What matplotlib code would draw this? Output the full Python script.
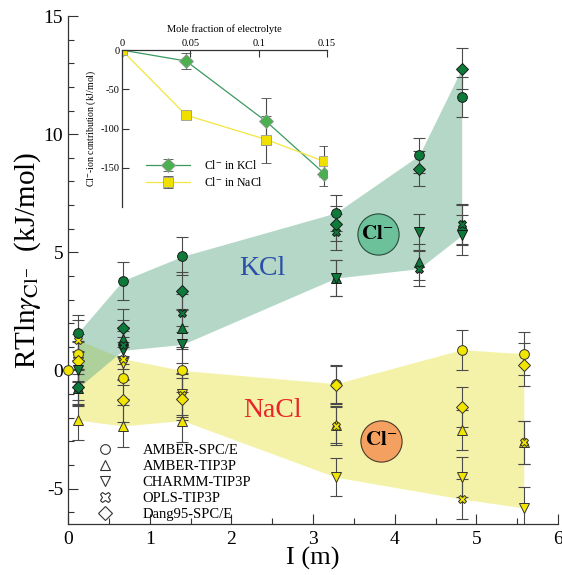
import matplotlib
matplotlib.use("Agg")
import matplotlib.pyplot as plt
import numpy as np
from matplotlib.lines import Line2D

plt.rcParams['font.family'] = ['Liberation Serif', 'DejaVu Serif']
plt.rcParams['mathtext.fontset'] = 'stix'
plt.rcParams['axes.unicode_minus'] = False

# ---------------- data ----------------
kcl_I = [0.12, 0.67, 1.40, 3.28, 4.30, 4.82]
kcl_amber_spce = [1.58, 3.80, 4.83, 6.67, 9.11, 11.58]
kcl_amber_tip3p = [-0.75, 1.35, 1.78, 3.91, 4.59, 6.15]
kcl_charmm_tip3p = [0.04, 0.85, 1.10, 3.91, 5.86, 5.72]
kcl_opls_tip3p = [-0.68, 1.06, 2.42, 5.86, 4.31, 6.21]
kcl_dang95_spce = [-0.70, 1.78, 3.36, 6.22, 8.54, 12.78]
kcl_err = [0.75, 0.80, 0.80, 0.75, 0.75, 0.85]

nacl_I = [0.12, 0.67, 1.40, 3.28, 4.82, 5.58]
nacl_amber_spce = [0.68, -0.30, 0.00, -0.56, 0.88, 0.71]
nacl_amber_tip3p = [-2.10, -2.35, -2.12, -2.29, -2.51, -3.04]
nacl_charmm_tip3p = [0.35, 0.30, -1.00, -4.52, -4.52, -5.82]
nacl_opls_tip3p = [1.30, 0.50, -1.06, -2.35, -5.44, -3.04]
nacl_dang95_spce = [0.40, -1.27, -1.20, -0.60, -1.53, 0.25]
nacl_err = [0.85, 0.90, 0.90, 0.80, 0.85, 0.90]

model_names = ['AMBER-SPC/E', 'AMBER-TIP3P', 'CHARMM-TIP3P', 'OPLS-TIP3P', 'Dang95-SPC/E']
model_markers = ['o', '^', 'v', 'X', 'D']

inset_x_kcl = [0.0, 0.047, 0.1055, 0.148]
inset_y_kcl = [0.0, -14.0, -91.0, -157.5]
inset_err_kcl = [0.0, 10.0, 30.0, 16.0]
inset_x_nacl = [0.0, 0.047, 0.1055, 0.148]
inset_y_nacl = [0.0, -83.0, -114.0, -142.0]
inset_err_nacl = [0.0, 5.0, 30.0, 20.0]

# ---------------- figure ----------------
fig = plt.figure(figsize=(5.62, 5.75), dpi=100)
ax = fig.add_axes([0.121, 0.0887, 0.872, 0.8833])

green_band = '#6ab190'
yellow_band = '#ebe752'
green_mk = '#0d7a3a'
yellow_mk = '#f2e600'
err_col = '#4a4a4a'

kcl_sets = [kcl_amber_spce, kcl_amber_tip3p, kcl_charmm_tip3p, kcl_opls_tip3p, kcl_dang95_spce]
nacl_sets = [nacl_amber_spce, nacl_amber_tip3p, nacl_charmm_tip3p, nacl_opls_tip3p, nacl_dang95_spce]

kcl_arr = np.array(kcl_sets)
nacl_arr = np.array(nacl_sets)
ax.fill_between(nacl_I, nacl_arr.min(axis=0), nacl_arr.max(axis=0),
                color=yellow_band, alpha=0.5, lw=0, zorder=1)
ax.fill_between(kcl_I, kcl_arr.min(axis=0), kcl_arr.max(axis=0),
                color=green_band, alpha=0.5, lw=0, zorder=1)

for vals, mk in zip(nacl_sets, model_markers):
    ax.errorbar(nacl_I, vals, yerr=nacl_err, fmt='none', ecolor=err_col,
                elinewidth=0.8, capsize=4, capthick=0.8, zorder=2)
    ax.plot(nacl_I, vals, ls='none', marker=mk,
            ms=6 if mk in ('D', 'X') else 7, mfc=yellow_mk, mec='#333333', mew=0.7, zorder=3)
for vals, mk in zip(kcl_sets, model_markers):
    ax.errorbar(kcl_I, vals, yerr=kcl_err, fmt='none', ecolor=err_col,
                elinewidth=0.8, capsize=4, capthick=0.8, zorder=2)
    ax.plot(kcl_I, vals, ls='none', marker=mk,
            ms=6 if mk in ('D', 'X') else 7, mfc=green_mk, mec='#1a1a1a', mew=0.7, zorder=3)

# reference point
ax.plot([0], [0], ls='none', marker='o', ms=7, mfc=yellow_mk, mec='#333333',
        mew=0.7, zorder=4, clip_on=False)

# salt labels
ax.text(2.38, 4.3, 'KCl', color='#2b4ea8', fontsize=20, ha='center', va='center')
ax.text(2.5, -1.7, 'NaCl', color='#e8262a', fontsize=20, ha='center', va='center')

# ion circles
ax.scatter([3.79], [5.76], s=880, facecolor='#6cc09a', edgecolor='#2a4a3a', lw=0.8, zorder=5)
ax.text(3.79, 5.76, r'$\mathbf{Cl}^{-}$', fontsize=15, ha='center', va='center', zorder=6)
ax.scatter([3.83], [-2.97], s=880, facecolor='#f4a060', edgecolor='#4a3a2a', lw=0.8, zorder=5)
ax.text(3.83, -2.97, r'$\mathbf{Cl}^{-}$', fontsize=15, ha='center', va='center', zorder=6)

ax.set_xlim(0, 6)
ax.set_ylim(-6.5, 15)
ax.set_xticks(np.arange(0, 7, 1))
ax.set_xticks(np.arange(0, 6.01, 0.5), minor=True)
ax.set_yticks([-5, 0, 5, 10, 15])
ax.set_yticks(np.arange(-6, 15.01, 1), minor=True)
ax.tick_params(which='both', direction='in', colors='#333333', labelcolor='black',
               labelsize=14, width=0.8)
ax.tick_params(which='major', length=7)
ax.tick_params(which='minor', length=4)
ax.tick_params(axis='x', pad=5)
for s in ['top', 'right']:
    ax.spines[s].set_visible(False)
for s in ['left', 'bottom']:
    ax.spines[s].set_color('#333333')
    ax.spines[s].set_linewidth(0.9)

ax.set_xlabel('I (m)', fontsize=19)
ax.xaxis.set_label_coords(0.5, -0.046)
ax.set_ylabel(r'RTln$\gamma_{\mathrm{Cl}^{-}}$  (kJ/mol)', fontsize=21)
ax.yaxis.set_label_coords(-0.05, 0.52)

handles = [Line2D([], [], ls='none', marker=m, ms=7 if m not in ('D', 'X') else 7.5,
                  mfc='white', mec='#333333', mew=0.8) for m in model_markers]
ax.legend(handles, model_names, loc='lower left', bbox_to_anchor=(0.027, -0.012),
          frameon=False, fontsize=10.5, handlelength=2.0, handletextpad=1.6,
          labelspacing=0.2, borderaxespad=0.2)

# ---------------- inset ----------------
ins = fig.add_axes([0.2166, 0.64, 0.3655, 0.273])
ins.patch.set_alpha(0)
ins.errorbar(inset_x_kcl, inset_y_kcl, yerr=inset_err_kcl, color='#3a9a5e', lw=0.9,
             ecolor=err_col, elinewidth=0.8, capsize=3.5, capthick=0.8,
             marker='D', ms=7, mfc='#4caf50', mec='#999999', mew=0.6, label='Cl$^{-}$ in KCl')
ins.errorbar(inset_x_nacl, inset_y_nacl, yerr=inset_err_nacl, color='#f2e640', lw=0.9,
             ecolor=err_col, elinewidth=0.8, capsize=3.5, capthick=0.8,
             marker='s', ms=7, mfc='#f0e000', mec='#999999', mew=0.6, label='Cl$^{-}$ in NaCl')
ins.set_xlim(0, 0.15)
ins.set_ylim(-200, 0)
ins.set_xticks([0, 0.05, 0.1, 0.15])
ins.set_xticklabels(['0', '0.05', '0.1', '0.15'])
ins.set_yticks([0, -50, -100, -150])
ins.xaxis.tick_top()
ins.xaxis.set_label_position('top')
ins.tick_params(direction='in', length=5, labelsize=7.5, width=0.8, colors='#333333',
                labelcolor='black', pad=1.5)
for s in ['bottom', 'right']:
    ins.spines[s].set_visible(False)
for s in ['left', 'top']:
    ins.spines[s].set_color('#333333')
    ins.spines[s].set_linewidth(0.9)
ins.set_xlabel('Mole fraction of electrolyte', fontsize=7.5, labelpad=5)
ins.set_ylabel(r'Cl$^{-}$-ion contribution (kJ/mol)', fontsize=7, labelpad=2)
ins.legend(loc='center left', bbox_to_anchor=(0.12, 0.21), frameon=False, fontsize=8.5,
           handlelength=3.7, handletextpad=1.2, labelspacing=0.3, borderpad=0,
           borderaxespad=0)

fig.savefig('out.png', dpi=100)
